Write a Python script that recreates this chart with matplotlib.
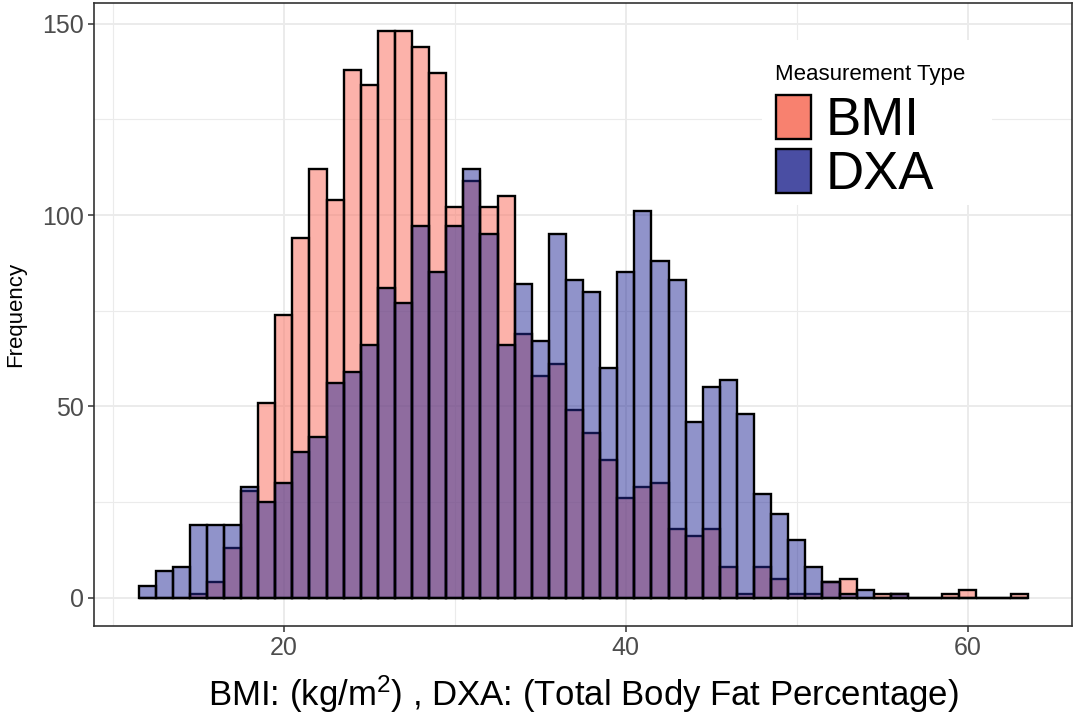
import matplotlib
matplotlib.use('Agg')
import matplotlib.pyplot as plt
from matplotlib.patches import Patch, Rectangle
from matplotlib.ticker import MultipleLocator

plt.rcParams['font.family'] = ['Liberation Sans', 'DejaVu Sans']
plt.rcParams['mathtext.default'] = 'regular'

# Histogram counts per unit-wide bin (bin centres 12 .. 63).
bin_centres = list(range(12, 64))
bmi_counts = [0, 0, 0, 1, 4, 13, 28, 51, 74, 94, 112, 104, 138, 134, 148, 148,
              144, 137, 102, 109, 102, 105, 69, 58, 61, 49, 43, 36, 26, 29, 30, 18,
              16, 18, 8, 1, 8, 5, 1, 1, 4, 5, 0, 1, 1, 0, 0, 1, 2, 0, 0, 1]
dxa_counts = [3, 7, 8, 19, 19, 19, 29, 25, 30, 38, 42, 56, 59, 66, 81, 77,
              97, 85, 97, 112, 95, 66, 82, 67, 95, 83, 80, 60, 85, 101, 88, 83,
              46, 55, 57, 48, 27, 22, 15, 8, 4, 1, 2, 0, 1, 0, 0, 0, 0, 0, 0, 0]

groups = ['BMI', 'DXA']
bar_fill = [(250/255, 128/255, 114/255, 0.6), (35/255, 40/255, 150/255, 0.5)]
key_fill = ['#F8816F', '#4A4EA3']

fig = plt.figure(figsize=(10.76, 7.14), dpi=100)
ax = fig.add_axes([0.0874, 0.1232, 0.909, 0.8726])

ax.bar(bin_centres, bmi_counts, width=1.0, color=bar_fill[0],
       edgecolor='black', linewidth=1.7, zorder=2)
ax.bar(bin_centres, dxa_counts, width=1.0, color=bar_fill[1],
       edgecolor='black', linewidth=1.7, zorder=3)

ax.set_xlim(8.9, 66.1)
ax.set_ylim(-7.4, 155.4)

# theme_bw-like panel
ax.xaxis.set_major_locator(MultipleLocator(20))
ax.xaxis.set_minor_locator(MultipleLocator(10))
ax.yaxis.set_major_locator(MultipleLocator(50))
ax.yaxis.set_minor_locator(MultipleLocator(25))
ax.set_axisbelow(True)
ax.grid(which='major', color='#EBEBEB', linewidth=1.4)
ax.grid(which='minor', color='#EBEBEB', linewidth=0.8)
for s in ax.spines.values():
    s.set_color('#333333')
    s.set_linewidth(1.2)
ax.tick_params(which='major', length=4, width=1.1, color='#333333',
               labelcolor='#4D4D4D', labelsize=18, pad=3)
ax.tick_params(which='minor', length=0)

ax.set_xlabel('BMI: (kg$/$m$^2$) , DXA: (Total Body Fat Percentage)',
              fontsize=25, labelpad=10)
ax.set_ylabel('Frequency', fontsize=16, labelpad=12)

# legend: white backing box, title and keys
ax.add_patch(Rectangle((0.683, 0.676), 0.235, 0.265, transform=ax.transAxes,
                       facecolor='white', edgecolor='none', zorder=1))
ax.text(0.6963, 0.876, 'Measurement Type', transform=ax.transAxes,
        fontsize=16, ha='left', va='baseline', zorder=5)
handles = [Patch(facecolor=key_fill[i], edgecolor='black', linewidth=1.7,
                 label=groups[i]) for i in range(2)]
ax.legend(handles=handles, loc='upper left', bbox_to_anchor=(0.6973, 0.852),
          fontsize=38, handlelength=0.66, handleheight=0.91, labelspacing=0.05,
          handletextpad=0.28, borderpad=0, borderaxespad=0, frameon=False)

fig.savefig('out.png', dpi=100)
